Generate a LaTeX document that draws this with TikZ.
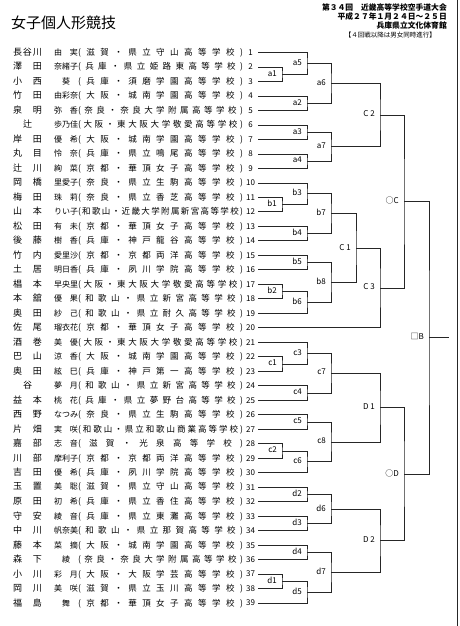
\documentclass[tikz,border=0pt]{standalone}
\usepackage{fontspec}
\setmainfont{Noto Sans CJK JP}
\usetikzlibrary{calc}
\def\sprloop#1#2\sprend{#1\ifx\relax#2\relax\else\hfill\sprloop#2\sprend\fi}
\newcommand\spr[2]{\makebox[#1][s]{\hskip0pt plus1fil\sprloop#2\sprend\hskip0pt plus1fil}}
\tikzset{
  row/.style={anchor=west, inner sep=0pt, outer sep=0pt},
  num/.style={inner sep=0pt, font=\fontsize{8}{8}\selectfont},
  lab/.style={anchor=east, inner sep=0pt, font=\fontsize{8}{8}\selectfont},
  hdr/.style={anchor=east, inner sep=0pt, font=\fontsize{7.8}{7.8}\selectfont\bfseries},
  br/.style={line width=0.8pt, draw=black!85},
}
\newcommand\entry[4]{%
  \pgfmathsetmacro\yy{52.5+(#1-1)*14.49}%
  \node[row] (p#1) at (13,\yy) {{\fontsize{9}{9}\selectfont\spr{29pt}{#2}}\hspace{12pt}{\fontsize{8}{8}\selectfont\spr{24pt}{#3}}{\fontsize{8.5}{8.5}\selectfont\spr{165pt}{(#4)}}};
  \node[num] (n#1) at (250.5,\yy) {#1};
  \coordinate (e#1) at (258,\yy);
}
\newcommand\mt[5]{%
  \path let \p1=(#3), \p2=(#4) in coordinate (#1) at (#2pt, {(\y1+\y2)/2});
  \draw[br] (#3) -| (#1) |- (#4);
  \node[lab] (L#1) at ([xshift=-5pt,yshift=1pt]#1) {#5};
}
\begin{document}
\begin{tikzpicture}[x=1pt,y=-1pt]
\useasboundingbox (0,0) rectangle (460,626);
\fill[white] (0,0) rectangle (460,626);
% header
\node[anchor=west, inner sep=0pt, font=\fontsize{15}{15}\selectfont] (title) at (11,23) {女子個人形競技};
\node[hdr] (h1) at (447,7.3) {第３４回　近畿高等学校空手道大会};
\node[hdr] (h2) at (447,16.7) {平成２７年１月２４日～２５日};
\node[hdr] (h3) at (447,26) {兵庫県立文化体育館};
\node[anchor=east, inner sep=0pt, font=\fontsize{6.5}{6.5}\selectfont] (h4) at (436,35) {【４回戦以降は男女同時進行】};
% border
\coordinate (bt) at (457.5,0);
\coordinate (bb) at (457.5,626);
\draw[br] (bt) -- (bb);
% entries
\entry{1}{長谷川}{由実}{滋賀・県立守山高等学校}
\entry{2}{澤田}{奈緒子}{兵庫・県立姫路東高等学校}
\entry{3}{小西}{葵}{兵庫・須磨学園高等学校}
\entry{4}{竹田}{由彩奈}{大阪・城南学園高等学校}
\entry{5}{泉明}{弥香}{奈良・奈良大学附属高等学校}
\entry{6}{辻}{歩乃佳}{大阪・東大阪大学敬愛高等学校}
\entry{7}{岸田}{優希}{大阪・城南学園高等学校}
\entry{8}{丸目}{怜奈}{兵庫・県立鳴尾高等学校}
\entry{9}{辻川}{絢菜}{京都・華頂女子高等学校}
\entry{10}{岡橋}{里愛子}{奈良・県立生駒高等学校}
\entry{11}{梅田}{珠莉}{奈良・県立香芝高等学校}
\entry{12}{山本}{りい子}{和歌山・近畿大学附属新宮高等学校}
\entry{13}{松田}{有未}{京都・華頂女子高等学校}
\entry{14}{後藤}{樹香}{兵庫・神戸龍谷高等学校}
\entry{15}{竹内}{愛里沙}{京都・京都両洋高等学校}
\entry{16}{土居}{明日香}{兵庫・夙川学院高等学校}
\entry{17}{椙本}{早央里}{大阪・東大阪大学敬愛高等学校}
\entry{18}{本舘}{優果}{和歌山・県立新宮高等学校}
\entry{19}{奥田}{紗己}{和歌山・県立耐久高等学校}
\entry{20}{佐尾}{瑠衣花}{京都・華頂女子高等学校}
\entry{21}{酒巻}{美優}{大阪・東大阪大学敬愛高等学校}
\entry{22}{巴山}{涼香}{大阪・城南学園高等学校}
\entry{23}{奥田}{絃巳}{兵庫・神戸第一高等学校}
\entry{24}{谷}{夢月}{和歌山・県立新宮高等学校}
\entry{25}{益本}{桃花}{兵庫・県立夢野台高等学校}
\entry{26}{西野}{なつみ}{奈良・県立生駒高等学校}
\entry{27}{片畑}{実咲}{和歌山・県立和歌山商業高等学校}
\entry{28}{嘉部}{志音}{滋賀・光泉高等学校}
\entry{29}{川部}{摩利子}{京都・京都両洋高等学校}
\entry{30}{吉田}{優希}{兵庫・夙川学院高等学校}
\entry{31}{玉置}{美聡}{滋賀・県立守山高等学校}
\entry{32}{原田}{初希}{兵庫・県立香住高等学校}
\entry{33}{守安}{綾音}{兵庫・県立東灘高等学校}
\entry{34}{中川}{帆奈美}{和歌山・県立那賀高等学校}
\entry{35}{藤本}{菜摘}{大阪・城南学園高等学校}
\entry{36}{森下}{綾}{奈良・奈良大学附属高等学校}
\entry{37}{小川}{彩月}{大阪・大阪学芸高等学校}
\entry{38}{岡川}{美咲}{滋賀・県立玉川高等学校}
\entry{39}{福島}{舞}{京都・華頂女子高等学校}
% bracket A
\mt{a1}{282}{e2}{e3}{a1}
\mt{a5}{307}{e1}{a1}{a5}
\mt{a2}{307}{e4}{e5}{a2}
\mt{a6}{331}{a5}{a2}{a6}
\mt{a3}{307}{e6}{e7}{a3}
\mt{a4}{307}{e8}{e9}{a4}
\mt{a7}{331}{a3}{a4}{a7}
\mt{C2}{380}{a6}{a7}{C 2}
% bracket B
\mt{b1}{282}{e11}{e12}{b1}
\mt{b3}{307}{e10}{b1}{b3}
\mt{b4}{307}{e13}{e14}{b4}
\mt{b7}{331}{b3}{b4}{b7}
\mt{b5}{307}{e15}{e16}{b5}
\mt{b2}{282}{e17}{e18}{b2}
\mt{b6}{307}{b2}{e19}{b6}
\mt{b8}{331}{b5}{b6}{b8}
\mt{C1}{356}{b7}{b8}{C 1}
\mt{C3}{380}{C1}{e20}{C 3}
\mt{OC}{404}{C2}{C3}{○C}
% bracket C
\mt{c1}{282}{e22}{e23}{c1}
\mt{c3}{307}{e21}{c1}{c3}
\mt{c4}{307}{e24}{e25}{c4}
\mt{c7}{331}{c3}{c4}{c7}
\mt{c5}{307}{e26}{e27}{c5}
\mt{c2}{282}{e28}{e29}{c2}
\mt{c6}{307}{c2}{e30}{c6}
\mt{c8}{331}{c5}{c6}{c8}
\mt{D1}{380}{c7}{c8}{D 1}
% bracket D
\mt{d2}{307}{e31}{e32}{d2}
\mt{d3}{307}{e33}{e34}{d3}
\mt{d6}{331}{d2}{d3}{d6}
\mt{d4}{307}{e35}{e36}{d4}
\mt{d1}{282}{e37}{e38}{d1}
\mt{d5}{307}{d1}{e39}{d5}
\mt{d7}{331}{d4}{d5}{d7}
\mt{D2}{380}{d6}{d7}{D 2}
\mt{OD}{404}{D1}{D2}{○D}
% final
\mt{B}{429}{OC}{OD}{□B}
\coordinate (Bout) at ([xshift=20pt]B);
\draw[br] (B) -- (Bout);
\end{tikzpicture}
\end{document}
